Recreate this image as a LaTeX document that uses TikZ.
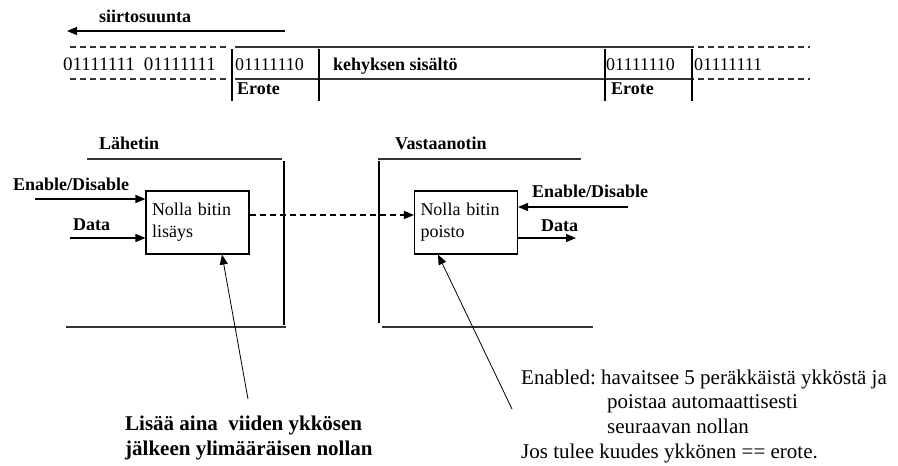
\documentclass[tikz,border=0pt]{standalone}
\usepackage{fontspec}
\setmainfont{Liberation Serif}
\usepackage{tikz}
\usetikzlibrary{calc}
\usetikzlibrary{arrows.meta}
\frenchspacing

\tikzset{
  txt/.style={font=\fontsize{18}{22}\selectfont, inner sep=0pt},
  btxt/.style={font=\fontsize{18}{22}\selectfont\bfseries, inner sep=0pt},
  note/.style={font=\fontsize{21}{24.6}\selectfont, inner sep=0pt, align=left},
  blk/.style={draw, line width=1.1pt, minimum width=103pt, minimum height=63pt, text width=91pt, inner sep=6pt, align=left, font=\fontsize{18}{22}\selectfont},
  arr/.style={-{Triangle[length=10pt,width=8pt]}, line width=1.1pt},
  dsh/.style={dash pattern=on 6pt off 4pt},
  wall/.style={line width=1.3pt, black!80}
}

\begin{document}
\begin{tikzpicture}[x=1pt,y=-1pt]

\useasboundingbox (0,0) rectangle (898,466);

\node[btxt, anchor=base west] (dir) at (99,22) {siirtosuunta};
\coordinate (dirS) at (285,31);
\coordinate (dirE) at (67,31);
\draw[arr] (dirS) -- (dirE);

\draw[wall, dsh] (70,47) -- (228,47);
\draw[wall, dsh] (70,79) -- (228,79);
\draw[wall] (235,47) -- (688,47);
\draw[wall] (235,79) -- (688,79);
\draw[wall, dsh] (688,47) -- (810,47);
\draw[wall, dsh] (688,79) -- (810,79);
\draw[line width=1.1pt] (232,49) -- (232,101);
\draw[line width=1.1pt] (319,49) -- (319,101);
\draw[line width=1.1pt] (605,49) -- (605,101);
\draw[line width=1.1pt] (692,49) -- (692,101);

\node[txt, font=\fontsize{19}{22}\selectfont, anchor=base west] (idle) at (63,70) {01111111\hspace{9pt}01111111};
\node[txt, anchor=base west] (flagA) at (235,70) {01111110};
\node[btxt, anchor=base west] (body) at (333,70) {kehyksen sisältö};
\node[txt, anchor=base west] (flagB) at (606,70) {01111110};
\node[txt, anchor=base west] (idleB) at (694,70) {01111111};
\node[btxt, anchor=base west] (eroA) at (237,94) {Erote};
\node[btxt, anchor=base west] (eroB) at (611,94) {Erote};

\node[btxt, anchor=base west] (lah) at (99,149) {Lähetin};
\draw[wall] (87,159) -- (282,159);
\draw[line width=1.1pt] (284,161) -- (284,325);
\draw[wall] (66,327) -- (286,327);
\node[blk] (tx) at (197.5,222.5) {Nolla bitin\\lisäys};

\node[btxt, anchor=base west] (enA) at (13,190) {Enable/Disable};
\coordinate (enAS) at (35,199);
\draw[arr] (enAS) -- (enAS -| tx.west);
\node[btxt, anchor=base west] (datA) at (73,230) {Data};
\coordinate (datAS) at (70,238);
\draw[arr] (datAS) -- (datAS -| tx.west);

\node[btxt, anchor=base west] (vas) at (395,149) {Vastaanotin};
\draw[wall] (378,159) -- (581,159);
\draw[line width=1.1pt] (379,161) -- (379,323);
\draw[wall] (382,327) -- (593,327);
\node[blk] (rx) at (466,222.5) {Nolla bitin\\poisto};

\coordinate (lnk) at (0,215);
\draw[arr, dsh] (tx.east |- lnk) -- (rx.west |- lnk);

\node[btxt, anchor=base west] (enB) at (532,197) {Enable/Disable};
\coordinate (enBS) at (628,207);
\draw[arr] (enBS) -- (enBS -| rx.east);
\node[btxt, anchor=base west] (datB) at (541,231) {Data};
\coordinate (datBE) at (576,238);
\draw[arr] (datBE -| rx.east) -- (datBE);

\coordinate (noteA) at (248,399);
\draw[arr, line width=0.8pt] (noteA) -- ([xshift=24.5pt]tx.south);
\coordinate (noteB) at (512,409);
\draw[arr, line width=0.8pt] (noteB) -- ([xshift=-28pt]rx.south);

\node[note, font=\fontsize{21}{25}\selectfont\bfseries, anchor=north west] (addtxt) at (125,415.5) {Lisää aina\ \ viiden ykkösen\\jälkeen ylimääräisen nollan};
\node[note, anchor=north west] (deltxt) at (521,369.5) {Enabled: havaitsee 5 peräkkäistä ykköstä ja\\\hspace*{86pt}poistaa automaattisesti\\\hspace*{86pt}seuraavan nollan\\Jos tulee kuudes ykkönen == erote.};

\end{tikzpicture}
\end{document}
